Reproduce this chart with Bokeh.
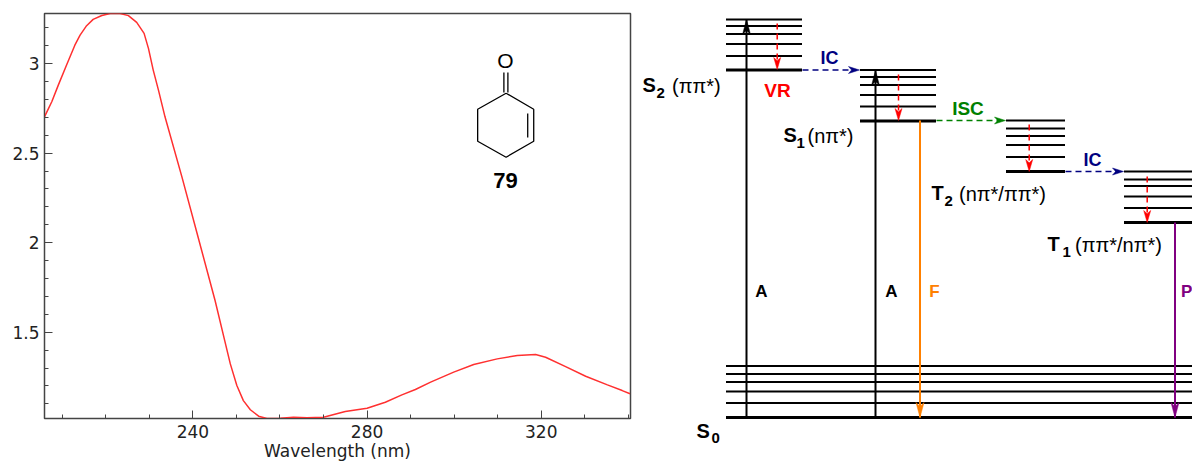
from bokeh.plotting import figure
from bokeh.layouts import row
from bokeh.models import FixedTicker, Range1d
from bokeh.core.properties import value
from bokeh.embed import file_html
from bokeh.resources import INLINE

# ---------- spectrum ----------
wavelength = [205.93, 207.6, 209.1, 211.0, 212.9, 214.1, 215.6, 217.1, 219.1, 221.0, 223.3, 225.2, 227.1, 228.8,
              229.8, 230.9, 232.1, 233.6, 237.5, 241.3, 245.1, 247.3, 248.6, 250.1, 251.6, 253.2, 255.1, 257.0,
              260.1, 263.1, 266.2, 270.0, 275.0, 280.0, 284.2, 288.0, 291.1, 294.6, 299.9, 304.5, 309.9, 314.5,
              318.7, 321.0, 325.6, 330.2, 335.2, 338.6, 340.4]
absorbance = [2.703, 2.787, 2.880, 2.992, 3.103, 3.159, 3.212, 3.247, 3.269, 3.280, 3.280, 3.268, 3.230, 3.169,
              3.085, 2.964, 2.852, 2.703, 2.366, 2.022, 1.677, 1.454, 1.323, 1.202, 1.118, 1.067, 1.031, 1.018,
              1.020, 1.025, 1.022, 1.025, 1.057, 1.075, 1.109, 1.150, 1.180, 1.221, 1.277, 1.320, 1.351, 1.370,
              1.375, 1.360, 1.308, 1.254, 1.206, 1.174, 1.156]
x_ticks = [240, 280, 320]
x_minor = [210, 220, 230, 240, 250, 260, 270, 280, 290, 300, 310, 320, 330, 340]
y_ticks = [1.5, 2, 2.5, 3]
y_minor = [1.1, 1.2, 1.3, 1.4, 1.5, 1.6, 1.7, 1.8, 1.9, 2.0, 2.1, 2.2, 2.3, 2.4, 2.5, 2.6, 2.7, 2.8, 2.9, 3.0, 3.1, 3.2]
x_label = "Wavelength (nm)"

# ---------- molecule (drawn in page pixels on the spectrum panel) ----------
ring_x = [505.7, 533.3, 533.3, 505.7, 477.3, 477.3, 505.7]
ring_y = [92.7, 108.7, 140.7, 156.7, 140.7, 108.7, 92.7]
bond_x0 = [503.5, 507.5, 527.3]
bond_y0 = [92.0, 92.0, 113.0]
bond_x1 = [503.5, 507.5, 527.3]
bond_y1 = [72.0, 72.0, 137.0]

# ---------- Jablonski diagram (page pixels) ----------
levels = [
    (725.5, 801.5, [19, 25.5, 33.5, 43.5, 55.5], 69.5),
    (859.5, 935.5, [69.5, 76.5, 84.5, 94.5, 106], 120.5),
    (1005.5, 1064.5, [120, 128, 135.5, 144.5, 156.5], 171),
    (1123.5, 1192, [171, 179, 185.5, 196, 207.5], 222),
    (725.5, 1192, [365.5, 373.5, 381.5, 391, 402.5], 417),
]
solid_arrows = [
    (746, 417, 746, 19, "black"),
    (875, 417, 875, 70, "black"),
    (919.5, 120, 919.5, 417, "#FF8000"),
    (1174.5, 222, 1174.5, 417, "#800080"),
]
vr_arrows = [(776.7, 23, 69), (898, 74, 120), (1028.7, 124, 171), (1146.7, 176, 222)]
transfer_arrows = [
    (802, 69.5, 859, "#000080"),
    (936, 120, 1005, "#008000"),
    (1065, 171, 1123, "#000080"),
]
tags = [
    ("IC", 829, 57, "#000080", 18), ("VR", 777, 90, "#FF0000", 19), ("ISC", 967.5, 107.5, "#008000", 19),
    ("IC", 1092, 159, "#000080", 18), ("A", 761, 291, "black", 17), ("A", 891, 291, "black", 17),
    ("F", 934, 291, "#FF8000", 17), ("P", 1180.5, 291, "#800080", 17),
]
state_names = [("S", 642, 84.5), ("S", 783, 134), ("T", 931, 192), ("T", 1047, 243), ("S", 696, 430)]
state_subs = [("2", 656, 92), ("1", 796, 142), ("2", 944, 200), ("1", 1062, 251), ("0", 711, 437)]
state_kinds = [("(ππ*)", 671.5, 85), ("(nπ*)", 807, 135), ("(nπ*/ππ*)", 958.5, 193), ("(ππ*/nπ*)", 1074.5, 244)]

# ---------- left panel ----------
FRAME_L, FRAME_R, FRAME_T, FRAME_B = 44.5, 630.0, 13.0, 418.0
X0, X1, Y0, Y1 = 205.93, 340.5, 1.018, 3.280


def px_x(v):
    return X0 + (v - FRAME_L) / (FRAME_R - FRAME_L) * (X1 - X0)


def px_y(v):
    return Y1 - (v - FRAME_T) / (FRAME_B - FRAME_T) * (Y1 - Y0)


p = figure(width=640, height=464, output_backend="svg", toolbar_location=None,
           x_range=Range1d(X0, X1), y_range=Range1d(Y0, Y1), frame_align=False,
           min_border_left=44, min_border_right=10, min_border_top=13, min_border_bottom=46,
           background_fill_color="white", border_fill_color="white")
p.grid.visible = False
p.outline_line_color = "#444444"
p.outline_line_width = 1.5
for ax, maj, mnr in ((p.xaxis[0], x_ticks, x_minor), (p.yaxis[0], y_ticks, y_minor)):
    ax.ticker = FixedTicker(ticks=maj, minor_ticks=mnr)
    ax.major_tick_in, ax.major_tick_out = 8, 0
    ax.minor_tick_in, ax.minor_tick_out = 4, 0
    ax.major_label_text_font = "DejaVu Sans"
    ax.major_label_text_font_size = "17px"
    ax.major_label_text_color = "#222222"
    ax.axis_line_color = "#444444"
    ax.major_tick_line_color = "#444444"
    ax.minor_tick_line_color = "#444444"
p.xaxis[0].major_label_standoff = 6
p.yaxis[0].major_label_standoff = 5
p.xaxis[0].axis_label = x_label
p.xaxis[0].axis_label_text_font = "DejaVu Sans"
p.xaxis[0].axis_label_text_font_style = "normal"
p.xaxis[0].axis_label_text_font_size = "17px"
p.xaxis[0].axis_label_text_color = "#222222"
p.xaxis[0].axis_label_standoff = 0
p.line(wavelength, absorbance, line_color="#FF3030", line_width=1.5)

p.line([px_x(v) for v in ring_x], [px_y(v) for v in ring_y], line_color="black", line_width=1.3)
p.segment([px_x(v) for v in bond_x0], [px_y(v) for v in bond_y0],
          [px_x(v) for v in bond_x1], [px_y(v) for v in bond_y1], line_color="black", line_width=1.3)
p.text([px_x(505)], [px_y(60)], text=["O"], text_font=value("Liberation Sans"), text_font_size="21px",
       text_align="center", text_baseline="middle", text_color="black")
p.text([px_x(505)], [px_y(179.5)], text=["79"], text_font=value("Liberation Sans"), text_font_style="bold",
       text_font_size="22px", text_align="center", text_baseline="middle", text_color="black")

# ---------- right panel ----------
q = figure(width=552, height=464, output_backend="svg", toolbar_location=None,
           x_range=Range1d(640, 1192), y_range=Range1d(464, 0), frame_align=False,
           min_border_left=0, min_border_right=0, min_border_top=0, min_border_bottom=0,
           background_fill_color="white", border_fill_color="white", outline_line_color=None)
q.grid.visible = False
q.axis.visible = False


def head(x_tip, y_tip, dx, dy, length, width, color):
    """Notched arrow head whose tip is at (x_tip, y_tip), pointing along (dx, dy)."""
    nx, ny = -dy, dx
    xs = [x_tip,
          x_tip - dx * length + nx * width / 2,
          x_tip - dx * length * 0.72,
          x_tip - dx * length - nx * width / 2]
    ys = [y_tip,
          y_tip - dy * length + ny * width / 2,
          y_tip - dy * length * 0.72,
          y_tip - dy * length - ny * width / 2]
    q.patch(xs, ys, fill_color=color, line_color=color, line_width=0.5)


for x0, x1, thin, thick in levels:
    q.segment([x0] * len(thin), thin, [x1] * len(thin), thin, line_color="black", line_width=2)
    q.segment([x0], [thick], [x1], [thick], line_color="black", line_width=3)

for x0, y0, x1, y1, c in solid_arrows:
    q.segment([x0], [y0], [x1], [y1], line_color=c, line_width=2)
    head(x1, y1, 0, 1 if y1 > y0 else -1, 15, 8, c)
for x, y0, y1 in vr_arrows:
    q.segment([x], [y0], [x], [y1 - 6], line_color="#FF0000", line_width=1.5, line_dash="6 4")
    head(x, y1, 0, 1, 12, 7, "#FF0000")
for x0, y, x1, c in transfer_arrows:
    q.segment([x0], [y], [x1 - 6], [y], line_color=c, line_width=1.5, line_dash="6 4")
    head(x1, y, 1, 0, 11, 7, c)

for t, x, y, c, s in tags:
    q.text([x], [y], text=[t], text_font=value("Liberation Sans"), text_font_style="bold",
           text_font_size=f"{s}px", text_color=c, text_align="left" if t == "P" else "center",
           text_baseline="middle")
for t, x, y in state_names:
    q.text([x], [y], text=[t], text_font=value("Liberation Sans"), text_font_style="bold",
           text_font_size="20px", text_color="black", text_align="left", text_baseline="middle")
for t, x, y in state_subs:
    q.text([x], [y], text=[t], text_font=value("Liberation Sans"), text_font_style="bold",
           text_font_size="15px", text_color="black", text_align="left", text_baseline="middle")
for t, x, y in state_kinds:
    q.text([x], [y], text=[t], text_font=value("Liberation Sans"), text_font_size="20px",
           text_color="black", text_align="left", text_baseline="middle")

page = row(p, q, spacing=0)
open("out.html", "w").write(file_html(page, INLINE))
